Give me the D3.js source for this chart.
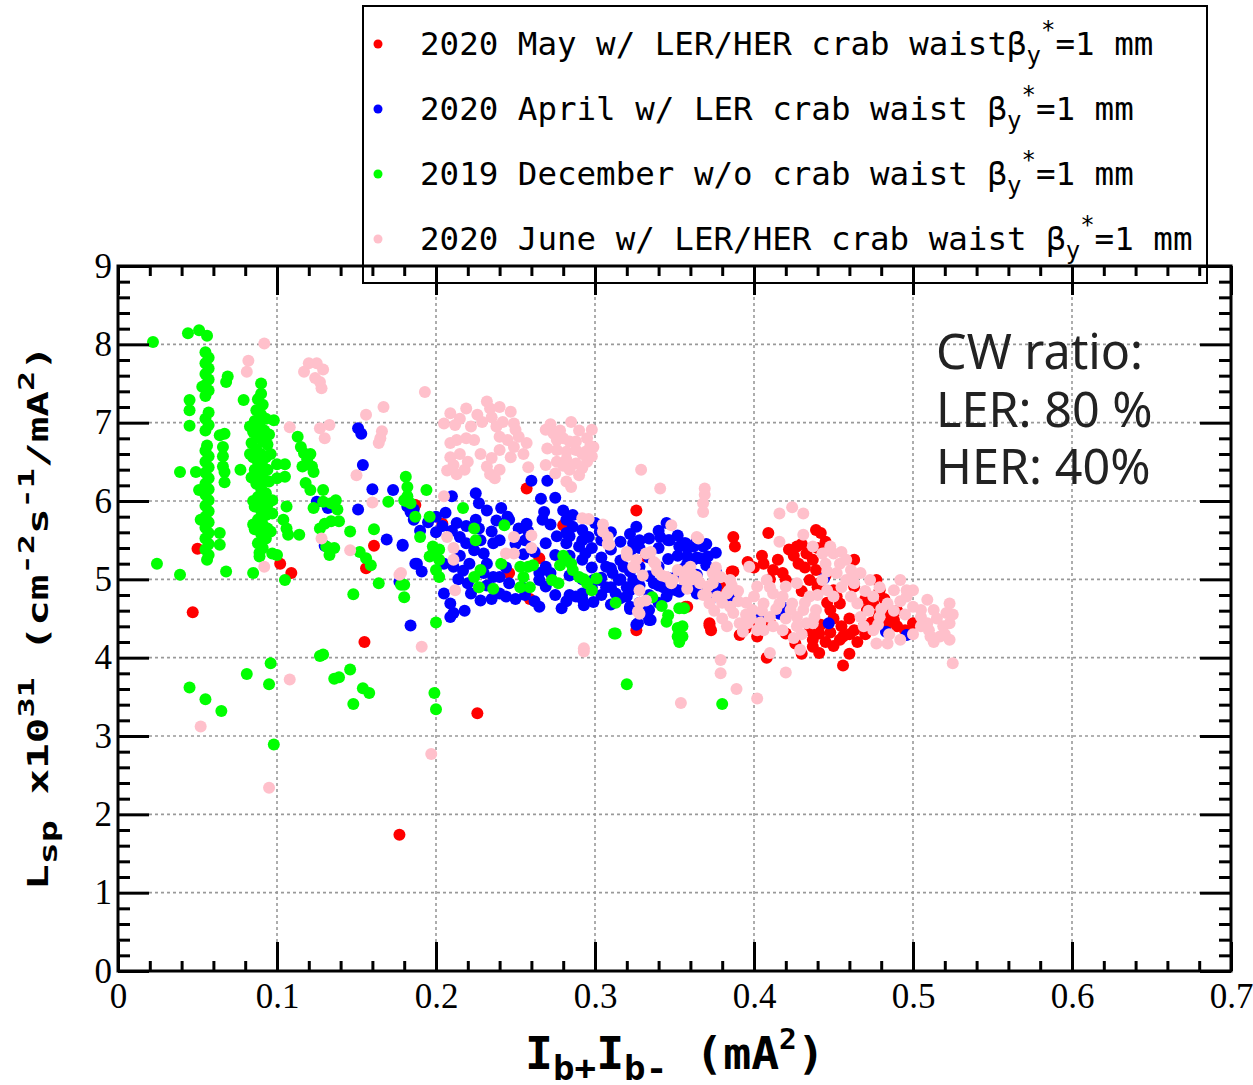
<!DOCTYPE html>
<html><head><meta charset="utf-8">
<script src="https://cdn.jsdelivr.net/npm/d3@7"></script>
<style>body{margin:0;background:#fff}svg{display:block}</style>
</head><body>
<svg id="c" width="1253" height="1085"></svg>
<script>
const xTicks=[0,0.1,0.2,0.3,0.4,0.5,0.6,0.7];
const xTickLabels=["0","0.1","0.2","0.3","0.4","0.5","0.6","0.7"];
const yTicks=[0,1,2,3,4,5,6,7,8,9];
const seriesNames=["2020 May w/ LER/HER crab waist","2020 April w/ LER crab waist ","2019 December w/o crab waist ","2020 June w/ LER/HER crab waist "];
const seriesColors=["#ff0000","#0000ff","#00ff00","#ffc0cb"];

const may2020=[[0.05,5.39],[0.102,5.2],[0.109,5.08],[0.161,5.43],[0.156,5.14],[0.186,5.95],[0.047,4.58],[0.155,4.2],[0.177,1.74],[0.226,3.29],[0.257,6.16],[0.326,5.88],[0.265,5.27],[0.246,5.08],[0.259,4.75],[0.204,5.71],[0.187,5.95],[0.357,4.65],[0.362,4.88],[0.28,5.69],[0.332,5.29],[0.326,4.35],[0.387,5.1],[0.372,4.41],[0.391,4.29],
[0.409,5.59],[0.387,5.54],[0.388,5.42],[0.439,5.63],[0.442,5.59],[0.422,5.38],[0.427,5.42],[0.433,5.33],[0.437,5.25],[0.439,5.12],[0.435,4.99],[0.406,5.2],[0.412,5.12],[0.418,5.08],[0.42,4.99],[0.463,5.25],[0.386,5.1],[0.381,4.89],[0.441,4.95],[0.45,4.86],[0.452,4.78],[0.454,4.69],[0.448,4.61],[0.463,4.91],[0.477,4.99],[0.479,4.86],[0.475,4.69],[0.471,4.61],[0.479,4.57],[0.484,4.44],[0.488,4.48],[0.5,4.44],[0.469,4.4],[0.463,4.35],[0.456,4.27],[0.454,4.23],[0.441,4.31],[0.437,4.23],[0.437,4.14],[0.441,4.06],[0.456,3.9],[0.372,4.44],[0.373,4.35],[0.402,4.27],[0.403,4.44],[0.42,4.31],[0.408,4.0],[0.358,4.65],
[0.428,5.2],[0.445,5.05],[0.46,4.5],[0.47,4.75],[0.43,4.85],[0.41,4.45],[0.395,4.38],[0.49,4.6],[0.495,4.35],[0.45,4.15],[0.426,4.18],
[0.425,5.3],[0.43,5.45],[0.44,5.4],[0.445,5.48],[0.432,5.15],[0.44,4.9],[0.446,4.7],[0.45,4.5],[0.455,4.4],[0.46,4.3],[0.465,4.2],[0.47,4.3],[0.445,4.2],[0.448,4.32],[0.442,4.42],[0.482,4.75],[0.486,4.55],[0.49,4.4],[0.478,4.5],[0.474,4.45],[0.41,5.0],[0.415,5.25],[0.405,5.3],[0.4,5.15],[0.396,5.22],[0.43,4.05],[0.46,4.05],[0.435,4.35]];

const april2020=[[0.151,6.93],[0.153,6.86],[0.154,6.46],[0.16,6.15],[0.173,6.14],[0.151,5.89],[0.125,5.99],[0.132,5.91],[0.169,5.51],[0.179,5.43],[0.13,5.43],[0.184,5.86],[0.186,5.76],[0.187,5.2],[0.177,4.97],[0.184,4.41],
[0.26,6.26],[0.27,6.26],[0.266,6.03],[0.275,6.04],[0.268,5.86],[0.267,5.76],[0.28,5.88],[0.286,5.82],[0.282,5.76],[0.282,5.59],[0.282,5.46],[0.286,5.67],[0.225,6.1],[0.227,5.97],[0.232,5.88],[0.21,6.06],[0.206,5.85],[0.2,5.8],[0.182,5.93],[0.186,5.89],[0.195,5.73],[0.204,5.68],[0.213,5.72],[0.219,5.68],[0.225,5.76],[0.227,5.65],[0.241,5.91],[0.245,5.8],[0.246,5.76],[0.257,5.71],[0.258,5.61],[0.256,5.5],[0.215,5.54],[0.219,5.46],[0.224,5.37],[0.23,5.33],[0.235,5.61],[0.236,5.46],[0.179,5.44],[0.188,5.2],[0.191,5.1],[0.205,5.2],[0.211,5.16],[0.217,5.11],[0.221,5.2],[0.269,5.46],[0.275,5.31],[0.269,5.16],[0.265,5.08],[0.272,5.08],[0.22,4.95],[0.222,4.82],[0.228,4.73],[0.205,4.82],[0.209,4.69],[0.211,4.57],[0.209,4.52],[0.24,4.82],[0.244,4.78],[0.246,4.95],[0.23,5.08],[0.236,5.03],[0.24,5.03],[0.265,4.99],[0.269,4.91],[0.279,4.63],[0.292,5.63],[0.296,5.54],[0.29,5.42],[0.294,5.33],[0.3,5.72],[0.303,5.61],[0.292,4.82],[0.293,4.67],[0.299,4.71],[0.307,5.16],[0.311,5.08],[0.303,4.99],[0.307,4.9],[0.315,4.99],[0.32,4.9],[0.313,4.82],[0.32,4.78],[0.324,4.99],[0.322,4.65],[0.318,5.16],[0.324,5.46],[0.326,5.67],[0.328,5.5],[0.332,4.56],[0.334,4.48],[0.345,5.72],[0.341,5.54],[0.347,5.5],[0.353,5.42],[0.357,5.46],[0.362,5.42],[0.362,5.25],[0.357,4.95],[0.364,4.82],[0.351,4.86],[0.343,4.9],[0.345,4.78],[0.337,4.95],[0.326,4.42],[0.299,4.99],
[0.262,4.72],[0.256,4.8],[0.214,5.0],[0.232,4.92],[0.276,5.55],[0.272,5.7],[0.262,5.35],[0.25,5.45],[0.252,5.65],[0.24,5.5],[0.238,5.75],[0.228,5.5],[0.21,5.62],[0.2,5.6],[0.19,5.62],[0.215,5.3],[0.232,5.2],[0.244,5.15],[0.255,5.32],[0.218,4.6],[0.235,4.75],[0.25,4.75],[0.254,4.9],[0.275,4.8],[0.282,4.72],[0.288,4.78],[0.265,4.65],
[0.284,5.55],[0.284,5.3],[0.284,5.05],[0.284,4.8],[0.292,5.5],[0.292,5.25],[0.292,5.0],[0.292,4.75],[0.298,5.4],[0.298,5.15],[0.298,4.9],[0.304,5.5],[0.304,5.28],[0.304,5.02],[0.304,4.8],[0.31,5.6],[0.31,5.38],[0.31,5.14],[0.31,4.9],[0.31,4.68],[0.316,5.48],[0.316,5.24],[0.316,5.0],[0.316,4.76],[0.322,5.58],[0.322,5.34],[0.322,5.1],[0.322,4.86],[0.322,4.62],[0.328,5.4],[0.328,5.16],[0.328,4.92],[0.328,4.7],[0.334,5.52],[0.334,5.28],[0.334,5.04],[0.334,4.8],[0.334,4.61],[0.34,5.62],[0.34,5.4],[0.34,5.16],[0.34,4.92],[0.34,4.7],[0.346,5.5],[0.346,5.26],[0.346,5.02],[0.346,4.84],[0.352,5.56],[0.352,5.3],[0.352,5.08],[0.352,4.86],[0.358,5.4],[0.358,5.2],[0.358,4.98],[0.364,5.5],[0.364,5.28],[0.364,5.06],[0.37,5.45],[0.37,5.18],[0.376,5.34],[0.376,5.1],[0.376,4.9],[0.385,4.78],
[0.356,5.46],[0.36,5.42],[0.364,5.46],[0.368,5.42],[0.371,5.29],[0.366,5.27],[0.358,5.29],[0.356,5.14],[0.364,4.93],[0.371,4.86],[0.375,4.78],[0.353,4.84],[0.403,4.52],[0.416,4.56],[0.42,4.63],[0.447,4.44],[0.483,4.33],[0.496,4.29],[0.444,5.01],[0.327,4.44],[0.335,4.48],[0.333,4.59]];

const dec2019=[[0.022,8.03],[0.044,8.14],[0.051,8.18],[0.056,8.11],
[0.055,7.9],[0.057,7.83],[0.055,7.76],[0.057,7.69],[0.055,7.62],[0.057,7.55],[0.055,7.48],[0.057,7.41],[0.055,7.34],[0.057,7.13],[0.055,7.05],[0.057,6.97],[0.055,6.9],[0.056,6.71],[0.055,6.64],[0.057,6.57],[0.055,6.5],[0.057,6.43],[0.055,6.36],[0.057,6.29],[0.055,6.22],[0.057,6.15],[0.055,6.08],[0.057,6.01],[0.055,5.94],[0.057,5.87],[0.055,5.8],[0.057,5.73],[0.055,5.66],[0.057,5.59],[0.055,5.52],[0.057,5.45],[0.055,5.38],[0.057,5.31],[0.056,5.25],
[0.053,7.46],[0.045,7.29],[0.045,7.16],[0.045,6.96],[0.069,7.59],[0.068,7.52],[0.079,7.29],[0.09,7.5],
[0.09,7.37],[0.088,7.3],[0.091,7.23],[0.087,7.16],[0.09,7.1],[0.093,7.05],[0.086,7.02],[0.089,6.96],[0.092,6.9],[0.085,6.88],[0.088,6.82],[0.091,6.76],[0.094,6.72],[0.084,6.74],[0.087,6.66],[0.09,6.6],[0.093,6.56],[0.085,6.56],[0.088,6.5],[0.091,6.44],[0.094,6.4],[0.086,6.4],[0.089,6.33],[0.092,6.27],[0.087,6.22],[0.09,6.16],[0.093,6.1],[0.088,6.05],[0.091,5.98],[0.086,5.93],[0.09,5.88],[0.093,5.82],[0.088,5.76],[0.091,5.7],[0.086,5.64],[0.09,5.58],[0.093,5.52],[0.088,5.46],[0.091,5.4],[0.089,5.34],
[0.083,6.95],[0.095,6.85],[0.083,6.6],[0.096,6.6],[0.084,6.3],[0.095,6.25],[0.085,6.0],[0.094,5.95],[0.085,5.7],[0.094,5.65],
[0.098,7.03],[0.039,6.37],[0.049,6.37],[0.051,6.14],[0.064,6.84],[0.067,6.86],[0.066,6.69],[0.066,6.57],[0.066,6.44],[0.067,6.37],[0.067,6.24],[0.077,6.40],[0.1,6.47],[0.105,6.47],[0.1,6.29],[0.105,6.31],[0.113,6.82],[0.115,6.69],[0.117,6.61],[0.121,6.6],[0.119,6.53],[0.116,6.44],[0.122,6.44],[0.123,6.37],[0.118,6.23],[0.121,6.14],[0.097,6.01],[0.097,5.84],[0.106,5.93],[0.104,5.76],[0.106,5.65],[0.107,5.57],[0.114,5.57],[0.096,5.61],[0.129,6.14],[0.123,5.91],[0.129,5.99],[0.134,5.97],[0.137,6.01],[0.138,5.89],[0.127,5.65],[0.13,5.71],[0.134,5.74],[0.139,5.74],[0.131,5.42],[0.136,5.4],[0.133,5.31],[0.146,5.61],[0.161,5.64],[0.152,5.35],[0.156,5.27],[0.159,5.18],[0.17,5.99],[0.181,6.31],[0.182,6.18],[0.182,6.06],[0.18,6.01],[0.184,5.97],[0.164,4.95],[0.178,4.93],[0.097,5.33],[0.1,5.31],[0.089,5.29],[0.085,5.08],[0.068,5.1],[0.039,5.06],[0.0245,5.2],[0.105,4.99],[0.064,5.59],[0.064,5.44],[0.052,5.76],
[0.148,4.81],[0.18,4.77],[0.127,4.02],[0.129,4.04],[0.096,3.93],[0.081,3.79],[0.095,3.66],[0.045,3.62],[0.136,3.73],[0.139,3.75],[0.146,3.85],[0.154,3.61],[0.158,3.55],[0.148,3.41],[0.055,3.47],[0.065,3.32],[0.098,2.89],[0.199,3.55],[0.2,3.34],[0.2,4.45],
[0.181,6.0],[0.194,6.14],[0.217,5.91],[0.187,5.8],[0.196,5.8],[0.19,5.54],[0.224,5.65],[0.225,5.5],[0.243,5.69],[0.198,5.42],[0.202,5.38],[0.198,5.33],[0.202,5.25],[0.2,5.12],[0.202,5.03],[0.196,5.29],[0.228,5.12],[0.224,5.03],[0.227,4.9],[0.236,4.88],[0.241,5.2],[0.253,5.16],[0.258,5.16],[0.255,5.03],[0.253,4.9],[0.259,4.9],[0.261,5.18],[0.282,5.25],[0.286,5.12],[0.29,5.03],[0.295,4.95],[0.298,4.86],[0.278,5.18],[0.273,4.99],[0.277,4.95],[0.301,5.01],[0.313,4.7],[0.336,4.77],[0.342,4.66],[0.346,4.54],[0.353,4.63],[0.352,4.38],[0.18,4.93],[0.28,5.3],[0.285,5.2],[0.293,5.0],
[0.345,4.46],[0.352,4.27],[0.353,4.2],[0.312,4.31],
[0.356,4.63],[0.355,4.4],[0.355,4.27],[0.38,3.41],[0.313,4.31],[0.32,3.66]];

const june2020=[[0.092,8.01],[0.082,7.79],[0.081,7.65],[0.117,7.65],[0.12,7.76],[0.125,7.76],[0.129,7.68],[0.124,7.57],[0.127,7.52],[0.128,7.44],[0.108,6.94],[0.127,6.93],[0.133,6.97],[0.13,6.8],[0.156,7.1],[0.167,7.2],[0.166,6.89],[0.165,6.8],[0.164,6.74],[0.15,6.33],[0.16,5.98],[0.128,5.52],[0.146,5.37],[0.092,5.16],[0.177,5.06],
[0.108,3.72],[0.052,3.12],[0.095,2.34],[0.197,2.77],[0.191,4.14],
[0.193,7.39],[0.209,7.12],[0.219,7.18],[0.205,6.99],[0.212,6.97],[0.232,7.27],[0.234,7.18],[0.24,7.2],[0.247,7.14],[0.229,7.01],[0.235,7.07],[0.238,6.95],[0.242,7.01],[0.249,6.99],[0.25,6.91],[0.24,6.82],[0.245,6.78],[0.249,6.69],[0.257,6.74],[0.247,6.56],[0.209,6.74],[0.213,6.78],[0.219,6.8],[0.224,6.78],[0.209,6.56],[0.211,6.46],[0.207,6.39],[0.213,6.34],[0.232,6.44],[0.234,6.34],[0.237,6.29],[0.258,6.43],[0.285,7.01],[0.269,6.91],[0.274,6.86],[0.276,6.78],[0.28,6.8],[0.284,6.76],[0.288,6.76],[0.295,6.8],[0.298,6.91],[0.27,6.67],[0.276,6.65],[0.282,6.63],[0.288,6.65],[0.294,6.63],[0.299,6.69],[0.269,6.46],[0.276,6.5],[0.282,6.53],[0.288,6.48],[0.295,6.5],[0.298,6.57],[0.284,6.4],[0.29,6.33],[0.282,6.25],[0.285,6.18],
[0.215,7.05],[0.222,6.95],[0.226,7.1],[0.215,6.6],[0.22,6.5],[0.228,6.6],[0.235,6.55],[0.24,6.65],[0.252,6.82],[0.255,6.6],[0.272,6.98],[0.278,6.9],[0.29,6.9],[0.292,6.6],[0.297,6.7],[0.28,6.45],[0.292,6.42],[0.275,6.35],[0.24,6.4],[0.218,6.4],
[0.329,6.4],[0.341,6.16],[0.205,6.06],[0.296,5.77],[0.305,5.61],[0.308,5.54],[0.309,5.44],[0.32,5.35],[0.326,5.25],[0.324,5.16],[0.332,5.33],[0.337,5.22],[0.339,5.11],[0.345,5.03],[0.349,4.99],[0.356,5.07],[0.36,5.16],[0.364,5.54],[0.348,5.69],[0.328,4.86],[0.332,4.73],[0.328,4.56],[0.249,5.54],[0.26,5.56],[0.26,5.4],[0.244,5.33],[0.249,5.33],[0.211,5.4],[0.211,5.25],[0.207,5.54],[0.212,4.86],[0.178,5.08],
[0.305,5.7],[0.308,5.45],[0.32,5.3],[0.325,5.15],[0.33,5.05],[0.335,5.35],[0.338,5.2],[0.342,5.05],[0.348,4.95],[0.352,5.12],[0.358,4.88],[0.362,5.05],[0.366,4.95],[0.37,4.8],[0.374,4.95],[0.38,4.7],[0.384,4.85],[0.376,5.15],[0.328,4.7],[0.292,5.78],
[0.293,4.12],[0.293,4.08],[0.354,3.42],[0.327,4.59],
[0.369,6.16],[0.369,6.08],[0.368,5.97],[0.368,5.86],[0.416,5.84],[0.424,5.92],[0.431,5.84],[0.431,5.57],[0.416,5.48],[0.365,5.52],[0.397,5.16],[0.374,5.08],[0.379,5.03],[0.385,4.99],[0.371,4.91],[0.377,4.78],[0.383,4.82],[0.36,4.99],[0.387,4.57],[0.391,4.44],[0.383,4.4],[0.395,4.7],[0.402,4.91],[0.408,4.99],[0.412,4.82],[0.406,4.69],[0.399,4.61],[0.416,4.69],[0.41,4.52],[0.406,4.35],[0.402,4.35],[0.42,4.91],[0.427,4.95],[0.424,4.69],[0.431,4.61],[0.433,4.44],[0.427,4.4],[0.437,4.44],[0.439,4.61],[0.435,4.78],[0.437,5.42],[0.443,5.33],[0.45,5.33],[0.454,5.2],[0.452,5.08],[0.458,4.99],[0.461,5.12],[0.463,4.95],[0.467,5.08],[0.461,4.78],[0.465,4.69],[0.467,4.52],[0.469,4.4],[0.475,4.35],[0.479,4.52],[0.484,4.69],[0.488,4.86],[0.492,4.99],[0.496,4.86],[0.496,4.78],[0.5,4.65],[0.5,4.86],[0.509,4.74],[0.513,4.61],[0.509,4.44],[0.511,4.27],[0.519,4.4],[0.521,4.57],[0.523,4.69],[0.523,4.23],[0.517,4.27],[0.523,4.44],[0.505,4.61],[0.505,4.4],[0.477,4.18],[0.484,4.18],[0.492,4.23],[0.525,3.93],[0.479,4.9],[0.473,4.99],[0.443,4.99],[0.446,4.86],[0.45,4.78],[0.423,4.61],[0.427,4.52],[0.41,4.06],[0.379,3.97],[0.379,3.8],[0.42,3.81],[0.389,3.6],[0.402,3.48],[0.429,4.1],[0.358,5.12],[0.364,5.03],[0.372,4.69],[0.356,4.99],[0.396,4.44],[0.393,4.33],
[0.385,4.65],[0.39,4.85],[0.395,4.55],[0.4,4.78],[0.405,4.6],[0.41,4.9],[0.414,4.62],[0.418,4.78],[0.39,4.72],[0.398,4.5],[0.404,4.45],[0.412,4.4],[0.42,4.5],[0.38,4.5],[0.386,4.92],[0.375,4.6],[0.368,4.8],[0.445,5.2],[0.448,5.42],[0.455,5.35],[0.458,5.25],[0.446,5.1],[0.455,4.9],[0.462,5.0],[0.47,4.85],[0.475,4.78],[0.472,4.6],[0.48,4.62],[0.488,4.6],[0.492,4.72],[0.495,4.55],[0.505,4.52],[0.51,4.35],[0.515,4.5],[0.5,4.3],[0.485,4.3],[0.478,4.42],[0.52,4.3],[0.525,4.55],[0.513,4.2],[0.438,4.52],[0.432,4.7],[0.44,4.8],[0.43,4.3],[0.425,4.25],[0.418,4.35]];

const allSeries=[may2020,april2020,dec2019,june2020];

const svg=d3.select("#c");
const x=d3.scaleLinear().domain([0,0.7]).range([118,1231]);
const y=d3.scaleLinear().domain([0,9]).range([971,266]);

// legend box (under the axes)
const lg=svg.append("g");
lg.append("rect").attr("x",363).attr("y",6).attr("width",844).attr("height",277)
  .attr("fill","#fff").attr("stroke","#000").attr("stroke-width",2);
seriesNames.forEach((name,i)=>{
  const by=55+i*65;
  lg.append("circle").attr("cx",378).attr("cy",by-11).attr("r",4.5).attr("fill",seriesColors[i]);
  const t=lg.append("text").attr("x",420).attr("y",by)
    .attr("font-family","DejaVu Sans Mono").attr("font-size",32.5).attr("fill","#000");
  t.append("tspan").text(name+"β");
  t.append("tspan").attr("font-size",24).attr("dy",9).text("y");
  t.append("tspan").attr("font-size",24).attr("dy",-26).text("*");
  t.append("tspan").attr("dy",17).text("=1 mm");
});

// grid
const grid=svg.append("g").attr("stroke","#999").attr("stroke-width",1.6).attr("stroke-dasharray","3,3");
grid.selectAll(".gv").data(xTicks.slice(1,-1)).join("line")
  .attr("x1",d=>x(d)).attr("x2",d=>x(d)).attr("y1",y(0)-29).attr("y2",y(9)+29);
grid.selectAll(".gh").data(yTicks.slice(1,-1)).join("line")
  .attr("y1",d=>y(d)).attr("y2",d=>y(d)).attr("x1",x(0)+31).attr("x2",x(0.7)-31);

// points
allSeries.forEach((s,i)=>{
  svg.append("g").selectAll("circle").data(s).join("circle")
    .attr("cx",d=>x(d[0])).attr("cy",d=>y(d[1])).attr("r",6).attr("fill",seriesColors[i]);
});

// axes
const xMinor=d3.range(0,71,2).map(v=>v/100).filter(v=>!xTicks.some(t=>Math.abs(t-v)<1e-9));
const yMinor=d3.range(0,91,2).map(v=>v/10).filter(v=>!yTicks.some(t=>Math.abs(t-v)<1e-9));
function styleAxis(g){g.select(".domain").remove();g.selectAll(".tick line").attr("stroke","#000").attr("stroke-width",3);}
const serif="Liberation Serif";
svg.append("g").attr("transform",`translate(0,${y(0)})`)
  .call(d3.axisBottom(x).tickValues(xTicks).tickSize(-29).tickPadding(12).tickFormat((d,i)=>xTickLabels[i]))
  .call(styleAxis).call(g=>g.selectAll("text").attr("font-family",serif).attr("font-size",35).attr("fill","#000"));
svg.append("g").attr("transform",`translate(0,${y(0)})`)
  .call(d3.axisBottom(x).tickValues(xMinor).tickSize(-10).tickFormat("")).call(styleAxis);
svg.append("g").attr("transform",`translate(0,${y(9)})`)
  .call(d3.axisTop(x).tickValues(xTicks).tickSize(-29).tickFormat("")).call(styleAxis);
svg.append("g").attr("transform",`translate(0,${y(9)})`)
  .call(d3.axisTop(x).tickValues(xMinor).tickSize(-10).tickFormat("")).call(styleAxis);
svg.append("g").attr("transform",`translate(${x(0)},0)`)
  .call(d3.axisLeft(y).tickValues(yTicks).tickSize(-31).tickPadding(6).tickFormat(d3.format("d")))
  .call(styleAxis).call(g=>g.selectAll("text").attr("font-family",serif).attr("font-size",35).attr("fill","#000"));
svg.append("g").attr("transform",`translate(${x(0)},0)`)
  .call(d3.axisLeft(y).tickValues(yMinor).tickSize(-12).tickFormat("")).call(styleAxis);
svg.append("g").attr("transform",`translate(${x(0.7)},0)`)
  .call(d3.axisRight(y).tickValues(yTicks).tickSize(-31).tickFormat("")).call(styleAxis);
svg.append("g").attr("transform",`translate(${x(0.7)},0)`)
  .call(d3.axisRight(y).tickValues(yMinor).tickSize(-12).tickFormat("")).call(styleAxis);
svg.append("rect").attr("x",x(0)).attr("y",y(9)).attr("width",x(0.7)-x(0)).attr("height",y(0)-y(9))
  .attr("fill","none").attr("stroke","#000").attr("stroke-width",3);

// annotation
const ann=["CW ratio:","LER: 80 %","HER: 40%"];
svg.append("g").selectAll("text").data(ann).join("text")
  .attr("x",936).attr("y",(d,i)=>369+i*57.5).attr("font-family","Noto Sans").attr("font-size",48.5)
  .attr("fill","#222").text(d=>d);

// x label
const xl=svg.append("text").attr("font-family","DejaVu Sans Mono").attr("font-weight","bold").attr("font-size",44).attr("fill","#000");
xl.append("tspan").text("I");
xl.append("tspan").attr("font-size",34).attr("dy",11).text("b+");
xl.append("tspan").attr("dy",-11).text("I");
xl.append("tspan").attr("font-size",34).attr("dy",11).text("b-");
xl.append("tspan").attr("dy",-11).text("\u00a0(mA");
xl.append("tspan").attr("font-size",28).attr("dy",-20).text("2");
xl.append("tspan").attr("dy",20).text(")");
const xw=xl.node().getComputedTextLength();
xl.attr("transform",`translate(525,1069) scale(${300/xw},1)`);

// y label
const yl=svg.append("text").attr("font-family","DejaVu Sans Mono").attr("font-weight","bold").attr("font-size",28).attr("fill","#000");
yl.append("tspan").text("L");
yl.append("tspan").attr("font-size",24).attr("dy",9).text("sp");
yl.append("tspan").attr("dy",-9).text("\u00a0x10");
yl.append("tspan").attr("font-size",22).attr("dy",-14).text("31");
yl.append("tspan").attr("dy",14).text("\u00a0(cm");
yl.append("tspan").attr("font-size",22).attr("dy",-14).text("-2");
yl.append("tspan").attr("dy",14).text("s");
yl.append("tspan").attr("font-size",22).attr("dy",-14).text("-1");
yl.append("tspan").attr("dy",14).text("/mA");
yl.append("tspan").attr("font-size",22).attr("dy",-14).text("2");
yl.append("tspan").attr("dy",14).text(")");
const yw=yl.node().getComputedTextLength();
yl.attr("transform",`translate(48,890) rotate(-90) scale(${545/yw},1)`);
</script>
</body></html>
